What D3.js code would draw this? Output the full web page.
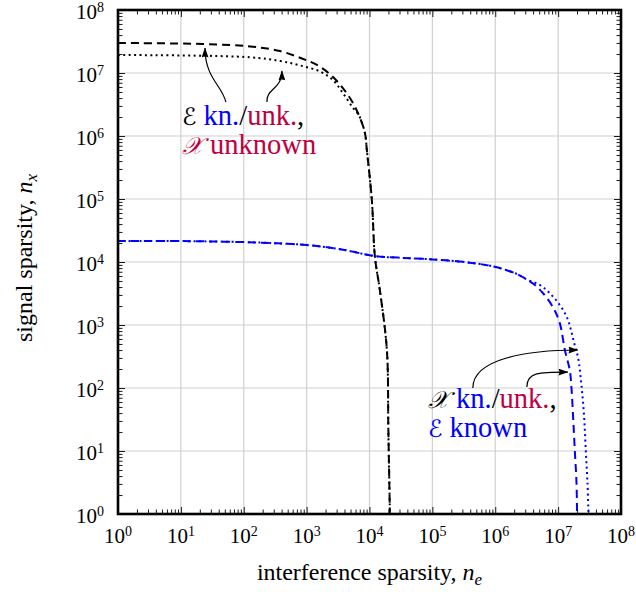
<!DOCTYPE html>
<html><head><meta charset="utf-8">
<script src="https://cdn.jsdelivr.net/npm/d3@7"></script>
<style>
html,body{margin:0;padding:0;background:#fff;}
svg{display:block;}
</style>
</head><body>
<svg id="chart" width="636" height="592"></svg>
<script>
// ---- tick labels (powers of ten) ----
const tickExponents = [0, 1, 2, 3, 4, 5, 6, 7, 8];

// ---- black curves: X unknown, E known / unknown ----
const neBlackDashed = [1, 22.4, 126, 377, 842, 1460, 2345, 3510, 5060, 6760, 8450, 9100, 10900, 12200, 14600, 18900, 19950, 21100];
const nxBlackDashed = [3.0e7, 2.88e7, 2.64e7, 2.23e7, 1.7e7, 1.34e7, 9.6e6, 6.3e6, 3.8e6, 2.15e6, 1.12e6, 5.8e5, 9.6e4, 1.2e4, 3600, 400, 21.5, 1];

const neBlackDotted = [1, 126, 377, 783, 1620, 2620, 3780, 5450, 6760, 8450, 9100, 10900, 12200, 14600, 18900, 19950, 21100];
const nxBlackDotted = [1.93e7, 1.78e7, 1.55e7, 1.32e7, 1.06e7, 7.75e6, 4.8e6, 2.8e6, 2.15e6, 1.12e6, 5.8e5, 9.6e4, 1.2e4, 3600, 400, 21.5, 1];

// ---- blue curves: E known, X known / unknown ----
const neBlueDashed = [1, 8.7, 98, 340, 1000, 3400, 12200, 30000, 1.0e5, 3.5e5, 9.8e5, 2.2e6, 3.18e6, 4.27e6, 5.71e6, 8.24e6, 1.06e7, 1.28e7, 1.53e7, 1.63e7, 1.73e7, 1.84e7, 1.96e7, 2.0e7];
const nxBlueDashed = [2.15e4, 2.15e4, 2.07e4, 1.98e4, 1.86e4, 1.6e4, 1.24e4, 1.17e4, 1.1e4, 9900, 8400, 6450, 5270, 4320, 3220, 1930, 1080, 400, 193, 100, 35, 10.4, 3.1, 1];

const neBlueDotted = [1, 8.7, 98, 340, 1000, 3400, 12200, 30000, 1.0e5, 3.5e5, 9.8e5, 2.2e6, 3.18e6, 5.12e6, 7.38e6, 1.06e7, 1.38e7, 1.6e7, 1.8e7, 2.08e7, 2.36e7, 2.59e7, 2.75e7, 2.93e7, 3.04e7];
const nxBlueDotted = [2.15e4, 2.15e4, 2.07e4, 1.98e4, 1.86e4, 1.6e4, 1.24e4, 1.17e4, 1.1e4, 9900, 8400, 6450, 5270, 4320, 3190, 2080, 1330, 834, 518, 300, 105, 35, 10.4, 3.1, 1];

const BLUE = "#0000ff", PURPLE = "#bf0040";
const SERIF = "'Liberation Serif','Times New Roman',Times,serif";
const SCRIPT = "'DejaVu Serif','DejaVu Sans','Noto Sans',serif";

const svg = d3.select("#chart");
const M = {left: 118, right: 15, top: 10, bottom: 78};
const W = 636, H = 592;
const x = d3.scaleLog().domain([1, 1e8]).range([M.left, W - M.right]);
const y = d3.scaleLog().domain([1, 1e8]).range([H - M.bottom, M.top]);
const x0 = x.range()[0], x1 = x.range()[1], y0 = y.range()[0], y1 = y.range()[1];

const majors = tickExponents.map(e => Math.pow(10, e));
const minors = [];
for (let e = 0; e < 8; e++) for (let k = 2; k <= 9; k++) minors.push(k * Math.pow(10, e));

// grid
const grid = svg.append("g").attr("stroke", "#d0d0d0").attr("stroke-width", 1.2);
majors.slice(1, -1).forEach(v => {
  grid.append("line").attr("x1", x(v)).attr("x2", x(v)).attr("y1", y0).attr("y2", y1);
  grid.append("line").attr("y1", y(v)).attr("y2", y(v)).attr("x1", x0).attr("x2", x1);
});

// axes via d3 (ticks inward on all sides)
function styleAxis(g){ g.select(".domain").remove(); g.selectAll("line").attr("stroke","#000").attr("stroke-width",0.9); g.selectAll("text").remove(); }
svg.append("g").attr("transform",`translate(0,${y0})`).call(d3.axisBottom(x).tickValues(majors).tickSize(-7)).call(styleAxis);
svg.append("g").attr("transform",`translate(0,${y0})`).call(d3.axisBottom(x).tickValues(minors).tickSize(-4.5)).call(styleAxis);
svg.append("g").attr("transform",`translate(0,${y1})`).call(d3.axisTop(x).tickValues(majors).tickSize(-7)).call(styleAxis);
svg.append("g").attr("transform",`translate(0,${y1})`).call(d3.axisTop(x).tickValues(minors).tickSize(-4.5)).call(styleAxis);
svg.append("g").attr("transform",`translate(${x0},0)`).call(d3.axisLeft(y).tickValues(majors).tickSize(-7)).call(styleAxis);
svg.append("g").attr("transform",`translate(${x0},0)`).call(d3.axisLeft(y).tickValues(minors).tickSize(-4.5)).call(styleAxis);
svg.append("g").attr("transform",`translate(${x1},0)`).call(d3.axisRight(y).tickValues(majors).tickSize(-7)).call(styleAxis);
svg.append("g").attr("transform",`translate(${x1},0)`).call(d3.axisRight(y).tickValues(minors).tickSize(-4.5)).call(styleAxis);

// tick labels
tickExponents.forEach(e => {
  const v = Math.pow(10, e);
  const tx = svg.append("text").attr("x", x(v)).attr("y", y0 + 29).attr("text-anchor", "middle")
    .attr("font-family", SERIF).attr("font-size", 21);
  tx.append("tspan").text("10");
  tx.append("tspan").attr("dy", -7.5).attr("font-size", 14).text(e);
  const ty = svg.append("text").attr("x", x0 - 14).attr("y", y(v) + 9).attr("text-anchor", "end")
    .attr("font-family", SERIF).attr("font-size", 21);
  ty.append("tspan").text("10");
  ty.append("tspan").attr("dy", -7.5).attr("font-size", 14).text(e);
});

// curves
svg.append("clipPath").attr("id","clip").append("rect").attr("x",x0).attr("y",y1).attr("width",x1-x0).attr("height",y0-y1);
const plot = svg.append("g").attr("clip-path","url(#clip)");
function curve(ne, nx, color, dash){
  const pts = ne.map((v,i)=>[v, nx[i]]);
  const line = d3.line().x(d=>x(d[0])).y(d=>y(d[1])).curve(d3.curveCatmullRom.alpha(0.5));
  plot.append("path").attr("d", line(pts)).attr("fill","none").attr("stroke",color)
    .attr("stroke-width",2).attr("stroke-dasharray",dash);
}
curve(neBlackDashed, nxBlackDashed, "#000", "8,5");
curve(neBlackDotted, nxBlackDotted, "#000", "2,3.4");
curve(neBlueDashed, nxBlueDashed, BLUE, "8,5");
curve(neBlueDotted, nxBlueDotted, BLUE, "2,3.4");

// frame
svg.append("rect").attr("x",x0).attr("y",y1).attr("width",x1-x0).attr("height",y0-y1)
  .attr("fill","none").attr("stroke","#000").attr("stroke-width",2.6);

// axis titles
const xt = svg.append("text").attr("x",(x0+x1)/2).attr("y",580).attr("text-anchor","middle")
  .attr("font-family", SERIF).attr("font-size",24);
xt.append("tspan").text("interference sparsity, ");
xt.append("tspan").attr("font-style","italic").text("n");
xt.append("tspan").attr("dy",5).attr("font-size",17).attr("font-style","italic").text("e");
const yt = svg.append("text").attr("transform",`translate(32,${(y0+y1)/2-4}) rotate(-90)`).attr("text-anchor","middle")
  .attr("font-family", SERIF).attr("font-size",24);
yt.append("tspan").text("signal sparsity, ");
yt.append("tspan").attr("font-style","italic").text("n");
yt.append("tspan").attr("dy",5).attr("font-size",17).attr("font-style","italic").text("x");

// annotations
const defs = svg.append("defs");
defs.append("marker").attr("id","arr").attr("viewBox","0 0 10 7").attr("refX",9.5).attr("refY",3.5)
  .attr("markerWidth",10).attr("markerHeight",7).attr("markerUnits","userSpaceOnUse").attr("orient","auto")
  .append("path").attr("d","M0,0 L10,3.5 L0,7 Q2,3.5 0,0 Z").attr("fill","#000");

const arrows = [
  {s:[52, 3.46e6], t:[24.2, 2.49e7], c1:[-4,-17], c2:[0,30]},
  {s:[234, 3.46e6], t:[405, 1.08e7], c1:[-1,-14], c2:[0,19]},
  {s:[4.4e5, 100], t:[2.06e7, 401], c1:[0,-30], c2:[-48,0]},
  {s:[3.18e6, 104], t:[1.43e7, 179], c1:[0,-15], c2:[-28,0]}
];
arrows.forEach(a=>{
  const sx=x(a.s[0]), sy=y(a.s[1]), tx=x(a.t[0]), ty=y(a.t[1]);
  svg.append("path").attr("d",`M${sx},${sy} C${sx+a.c1[0]},${sy+a.c1[1]} ${tx+a.c2[0]},${ty+a.c2[1]} ${tx},${ty}`)
    .attr("fill","none").attr("stroke","#000").attr("stroke-width",1.2).attr("marker-end","url(#arr)");
});

function label(pos, lines){
  const px = x(pos[0]), py = y(pos[1]);
  lines.forEach((parts,i)=>{
    const t = svg.append("text").attr("x",px).attr("y",py+i*29).attr("font-family",SERIF).attr("font-size",28.5);
    parts.forEach(p=>{
      const ts = t.append("tspan").text(p[0]).attr("fill",p[1]);
      if (p[2]) ts.attr("font-family",SCRIPT).attr("font-style","italic").attr("font-size",24);
      else ts.attr("font-family",SERIF);
    });
  });
}
label([10.4, 1.5e6], [
  [["\u2130","#000",1],[" kn.",BLUE],["/","#000"],["unk.",PURPLE],[",","#000"]],
  [["\uD835\uDCB3",PURPLE,1],[" unknown",PURPLE]]
]);
label([8.5e4, 48], [
  [["\uD835\uDCB3","#000",1],[" kn.",BLUE],["/","#000"],["unk.",PURPLE],[",","#000"]],
  [["\u2130",BLUE,1],[" known",BLUE]]
]);
</script>
</body></html>
